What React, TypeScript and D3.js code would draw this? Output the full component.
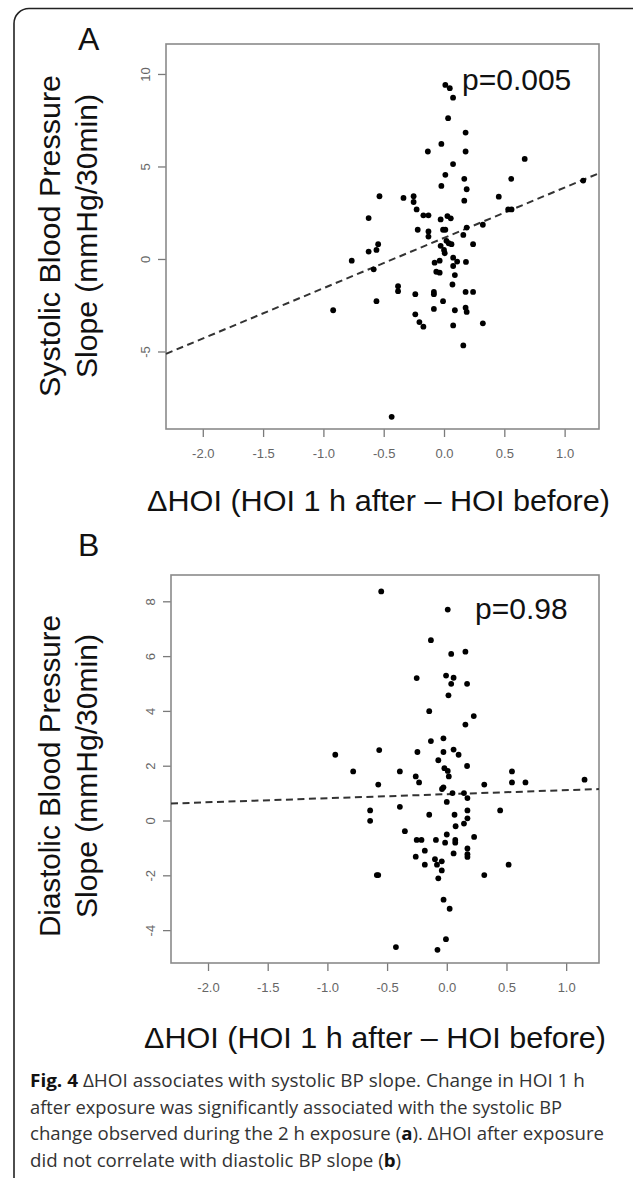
import React, { useRef, useEffect } from 'react'
import * as d3 from 'd3'

// values
const xTicks = [-2, -1.5, -1, -0.5, 0, 0.5, 1]
const sysTicks = [-5, 0, 5, 10]
const diaTicks = [-4, -2, 0, 2, 4, 6, 8]

const sysX = [
	0.011, 0.048, 0.075, 0.034, 0.179, -0.022, -0.134, 0.179, 0.669, 0.075, 0.011, 0.168, 0.557, 1.154,
	-0.022, 0.188, -0.535, -0.336, -0.252, -0.252, 0.454, 0.168, -0.227, -0.171, -0.129, -0.625, -0.028,
	0.028, 0.056, 0.532, 0.56, -0.218, -0.129, -0.129, -0.008, 0.011, 0.188, 0.322, 0.16, 0.02, 0.039,
	0.062, -0.028, 0.0, 0.006, 0.241, -0.546, -0.625, -0.56, -0.765, -0.583, 0.076, 0.109, 0.182, -0.078,
	-0.036, 0.076, -0.064, -0.036, 0.09, 0.07, -0.381, -0.381, -0.238, -0.084, -0.084, 0.179, 0.241,
	-0.56, -0.008, -0.919, -0.084, 0.09, 0.179, 0.188, -0.238, -0.204, -0.171, 0.076, 0.322, 0.16, -0.434,
]
const sysY = [
	9.41, 9.23, 8.72, 7.61, 6.83, 6.22, 5.81, 5.81, 5.41, 5.13, 4.55, 4.33, 4.33, 4.24,
	3.95, 3.77, 3.39, 3.3, 3.39, 3.08, 3.37, 3.15, 2.68, 2.36, 2.36, 2.21, 2.14,
	2.32, 2.2, 2.68, 2.68, 1.58, 1.49, 1.21, 1.58, 1.58, 1.7, 1.85, 1.3, 0.98, 0.85,
	0.8, 0.71, 0.49, 0.31, 0.8, 0.8, 0.4, 0.49, -0.09, -0.56, 0.07, -0.14, -0.16, -0.2,
	-0.09, -0.38, -0.69, -0.74, -0.87, -1.38, -1.47, -1.74, -1.9, -1.78, -1.9, -1.78, -1.78,
	-2.28, -2.28, -2.77, -2.7, -2.77, -2.63, -2.86, -2.99, -3.41, -3.66, -3.59, -3.48, -4.67, -8.53,
]

const diaX = [
	-0.549, 0.008, -0.133, 0.037, 0.156, -0.252, -0.006, 0.057, 0.037, 0.17, 0.014, -0.147, 0.226, 0.156,
	-0.133, -0.028, -0.566, -0.246, -0.028, 0.057, 0.099, -0.934, -0.071, -0.02, 0.008, 0.17, -0.784,
	-0.393, 0.017, -0.26, -0.232, 0.546, 0.546, 0.659, 1.154, -0.574, 0.314, -0.04, -0.028, 0.048, 0.144,
	0.173, 0.0, -0.642, -0.393, 0.173, 0.447, -0.147, 0.065, 0.173, -0.642, 0.144, 0.074, -0.351, 0.0,
	0.229, -0.252, -0.212, -0.091, -0.014, 0.071, 0.071, -0.184, 0.173, 0.173, 0.173, 0.057, -0.26,
	-0.099, -0.042, -0.184, -0.082, 0.518, -0.042, -0.586, -0.574, 0.314, -0.071, -0.027, 0.024, -0.007,
	-0.426, -0.078,
]
const diaY = [
	8.36, 7.7, 6.58, 6.08, 6.16, 5.2, 5.29, 5.21, 4.99, 4.99, 4.57, 3.99, 3.81, 3.5,
	2.9, 3.0, 2.57, 2.5, 2.5, 2.59, 2.4, 2.4, 2.2, 1.91, 1.81, 1.99, 1.79,
	1.79, 1.61, 1.61, 1.39, 1.79, 1.39, 1.39, 1.49, 1.31, 1.31, 1.15, 1.21, 1.0, 1.0,
	0.82, 0.68, 0.37, 0.5, 0.37, 0.37, 0.21, 0.21, 0.08, -0.01, -0.11, -0.21, -0.39, -0.51,
	-0.6, -0.71, -0.71, -0.71, -0.81, -0.71, -0.81, -1.1, -1.02, -1.23, -1.33, -1.2, -1.32,
	-1.41, -1.49, -1.61, -1.61, -1.61, -1.82, -1.99, -1.99, -1.99, -2.11, -2.89, -3.22, -4.33,
	-4.62, -4.72,
]

// fitted lines: [intercept, slope]
const sysFit = [1.14, 2.72]
const diaFit = [0.96, 0.147]

const pValues = ['p=0.005', 'p=0.98']
const panelLetters = ['A', 'B']
const sysTitle = ['Systolic Blood Pressure', 'Slope (mmHg/30min)']
const diaTitle = ['Diastolic Blood Pressure', 'Slope (mmHg/30min)']
const xTitle = 'ΔHOI (HOI 1 h after – HOI before)'

const FONT = '"Liberation Sans", Arial, Helvetica, sans-serif'

function Scatter({ xs, ys, fit, yTicks, frame, xDomain, yDomain }) {
	const ref = useRef(null)

	useEffect(() => {
		const g = d3.select(ref.current)
		g.selectAll('*').remove()
		const { left, right, top, bottom } = frame

		const x = d3.scaleLinear().domain(xDomain).range([left, right])
		const y = d3.scaleLinear().domain(yDomain).range([bottom, top])

		const xAxis = g
			.append('g')
			.attr('transform', `translate(0,${bottom})`)
			.call(
				d3.axisBottom(x).tickValues(xTicks).tickSize(8).tickSizeOuter(0)
					.tickFormat((d) => d.toFixed(1))
			)
		const yAxis = g
			.append('g')
			.attr('transform', `translate(${left},0)`)
			.call(
				d3.axisLeft(y).tickValues(yTicks).tickSize(8).tickSizeOuter(0)
					.tickFormat((d) => String(d))
			)

		for (const ax of [xAxis, yAxis]) {
			ax.select('.domain').remove()
			ax.selectAll('line').attr('stroke', '#7a7a7a').attr('stroke-width', 1.3)
			ax.selectAll('text')
				.attr('fill', '#666')
				.attr('font-size', 13)
				.attr('font-family', FONT)
		}
		xAxis.selectAll('text').attr('y', 24).attr('dy', '0.35em')
		yAxis.selectAll('text')
			.attr('x', 0)
			.attr('y', 0)
			.attr('dy', '0.35em')
			.attr('text-anchor', 'middle')
			.attr('transform', 'translate(-21,0) rotate(-90)')

		g.append('rect')
			.attr('x', left)
			.attr('y', top)
			.attr('width', right - left)
			.attr('height', bottom - top)
			.attr('fill', 'none')
			.attr('stroke', '#8a8a8a')
			.attr('stroke-width', 1.6)

		const [a, b] = fit
		g.append('line')
			.attr('x1', x(xDomain[0]))
			.attr('y1', y(a + b * xDomain[0]))
			.attr('x2', x(xDomain[1]))
			.attr('y2', y(a + b * xDomain[1]))
			.attr('stroke', '#333')
			.attr('stroke-width', 2)
			.attr('stroke-dasharray', '7 4.5')

		g.selectAll('circle')
			.data(d3.range(xs.length))
			.join('circle')
			.attr('cx', (i) => x(xs[i]))
			.attr('cy', (i) => y(ys[i]))
			.attr('r', 2.9)
			.attr('fill', '#000')
	}, [])

	return <g ref={ref} />
}

function YTitle({ lines, cy }) {
	return (
		<g fontFamily={FONT} fontSize={30} fill="#111">
			<text transform={`translate(59.5,${cy}) rotate(-90)`} textAnchor="middle" textLength={322} lengthAdjust="spacingAndGlyphs">{lines[0]}</text>
			<text transform={`translate(96.5,${cy}) rotate(-90)`} textAnchor="middle" textLength={284} lengthAdjust="spacingAndGlyphs">{lines[1]}</text>
		</g>
	)
}

export default function App() {
	const captionStyle = { fontFamily: '"Open Sans", "Noto Sans", sans-serif', fontSize: 18, fill: '#333' }
	return (
		<svg
			width={633}
			height={1178}
			style={{ position: 'absolute', left: 0, top: 0, background: '#fff' }}
		>
			<rect x={14} y={8.5} width={700} height={1300} rx={15} fill="none" stroke="#222" strokeWidth={1.6} />

			<text x={78} y={50} fontFamily={FONT} fontSize={32} fill="#111">{panelLetters[0]}</text>
			<YTitle lines={sysTitle} cy={236} />
			<Scatter
				xs={sysX}
				ys={sysY}
				fit={sysFit}
				yTicks={sysTicks}
				frame={{ left: 166, right: 599, top: 44, bottom: 429 }}
				xDomain={[-2.305, 1.285]}
				yDomain={[-9.19, 11.62]}
			/>
			<text x={462} y={90} fontFamily={FONT} fontSize={30} fill="#111">{pValues[0]}</text>
			<text x={147} y={511} fontFamily={FONT} fontSize={30} fill="#111" textLength={463} lengthAdjust="spacingAndGlyphs">{xTitle}</text>

			<text x={78} y={556} fontFamily={FONT} fontSize={32} fill="#111">{panelLetters[1]}</text>
			<YTitle lines={diaTitle} cy={776} />
			<Scatter
				xs={diaX}
				ys={diaY}
				fit={diaFit}
				yTicks={diaTicks}
				frame={{ left: 171, right: 599, top: 575, bottom: 963 }}
				xDomain={[-2.31, 1.275]}
				yDomain={[-5.2, 8.96]}
			/>
			<text x={475} y={619} fontFamily={FONT} fontSize={30} fill="#111">{pValues[1]}</text>
			<text x={144} y={1048} fontFamily={FONT} fontSize={30} fill="#111" textLength={462} lengthAdjust="spacingAndGlyphs">{xTitle}</text>

			<g style={captionStyle}>
				<text x={30} y={1087} textLength={555} lengthAdjust="spacingAndGlyphs">
					<tspan fontWeight="bold" fill="#111">Fig. 4</tspan> ΔHOI associates with systolic BP slope. Change in HOI 1 h
				</text>
				<text x={30} y={1113.5} textLength={532} lengthAdjust="spacingAndGlyphs">
					after exposure was significantly associated with the systolic BP
				</text>
				<text x={30} y={1140} textLength={574} lengthAdjust="spacingAndGlyphs">
					change observed during the 2 h exposure (<tspan fontWeight="bold" fill="#111">a</tspan>). ΔHOI after exposure
				</text>
				<text x={30} y={1166.5} textLength={371} lengthAdjust="spacingAndGlyphs">
					did not correlate with diastolic BP slope (<tspan fontWeight="bold" fill="#111">b</tspan>)
				</text>
			</g>
		</svg>
	)
}
